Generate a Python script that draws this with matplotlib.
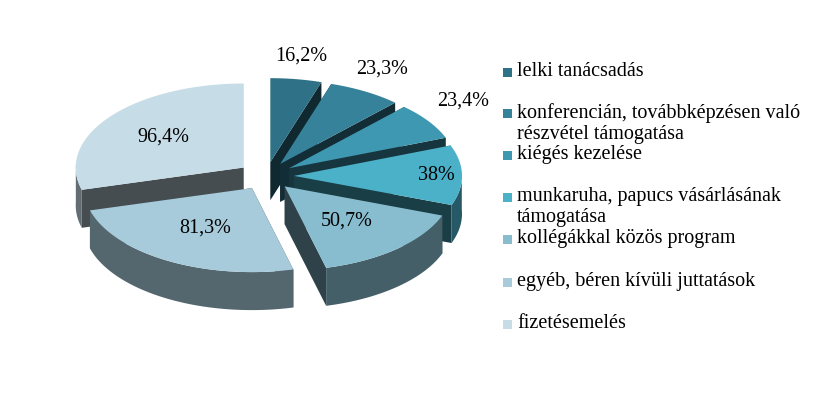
import numpy as np
import matplotlib.pyplot as plt
from matplotlib.patches import Polygon, Rectangle
from matplotlib.colors import to_rgb

labels = ["lelki tanácsadás",
          "konferencián, továbbképzésen való\nrészvétel támogatása",
          "kiégés kezelése",
          "munkaruha, papucs vásárlásának\ntámogatása",
          "kollégákkal közös program",
          "egyéb, béren kívüli juttatások",
          "fizetésemelés"]
values = [16.2, 23.3, 23.4, 38.0, 50.7, 81.3, 96.4]
value_texts = ["16,2%", "23,3%", "23,4%", "38%", "50,7%", "81,3%", "96,4%"]
colors = ["#2f7287", "#36829b", "#3f98b1", "#4bb1c9", "#88bdd0", "#a8cbdc", "#c6dce7"]
label_k = [1.18, 1.2, 1.25, 0.85, 0.55, 0.55, 0.6]

cx, cy, R, r, D, E = 266, 176, 168, 84, 38, 28

fig = plt.figure(figsize=(8.33, 4.07), dpi=100)
ax = fig.add_axes([0, 0, 1, 1])
ax.set_xlim(0, 833)
ax.set_ylim(407, 0)
ax.axis("off")

def dark(c, f):
    return tuple(np.array(to_rgb(c)) * f)

total = sum(values)
starts, ends = [], []
a = 90.0
for v in values:
    starts.append(a)
    a -= v / total * 360
    ends.append(a)

order = sorted(range(len(values)),
               key=lambda i: -np.sin(np.radians((starts[i] + ends[i]) / 2)))
for i in order:
    s, e = np.radians(starts[i]), np.radians(ends[i])
    m = (s + e) / 2
    ox, oy = cx + E * np.cos(m), cy - E * np.sin(m) * r / R
    th = np.linspace(s, e, 80)
    xs = ox + R * np.cos(th)
    ys = oy - r * np.sin(th)
    wall = dark(colors[i], 0.5)
    for t in (s, e):
        px, py = ox + R * np.cos(t), oy - r * np.sin(t)
        ax.add_patch(Polygon([(ox, oy), (px, py), (px, py + D), (ox, oy + D)],
                             closed=True, fc=dark(colors[i], 0.35), ec="none"))
    front = np.sin(th) < 0.05
    if front.any():
        fx, fy = xs[front], ys[front]
        pts = list(zip(fx, fy)) + list(zip(fx[::-1], fy[::-1] + D))
        ax.add_patch(Polygon(pts, closed=True, fc=wall, ec="none"))
    ax.add_patch(Polygon([(ox, oy)] + list(zip(xs, ys)), closed=True,
                         fc=colors[i], ec="none"))
    k = label_k[i]
    ax.text(ox + k * R * np.cos(m), oy - k * r * np.sin(m) - (8 if k > 1 else 0),
            value_texts[i], ha="center", va="center",
            family="Liberation Serif", fontsize=14.5)

ys_leg = [73, 114, 156, 198, 240, 283, 325]
for lab, c, y in zip(labels, colors, ys_leg):
    ax.add_patch(Rectangle((503, y - 5), 9, 9, fc=c, ec="none"))
    ax.text(517, y - 11, lab, ha="left", va="top", family="Liberation Serif",
            fontsize=14.5, linespacing=1.15)

fig.savefig("out.png", dpi=100)
